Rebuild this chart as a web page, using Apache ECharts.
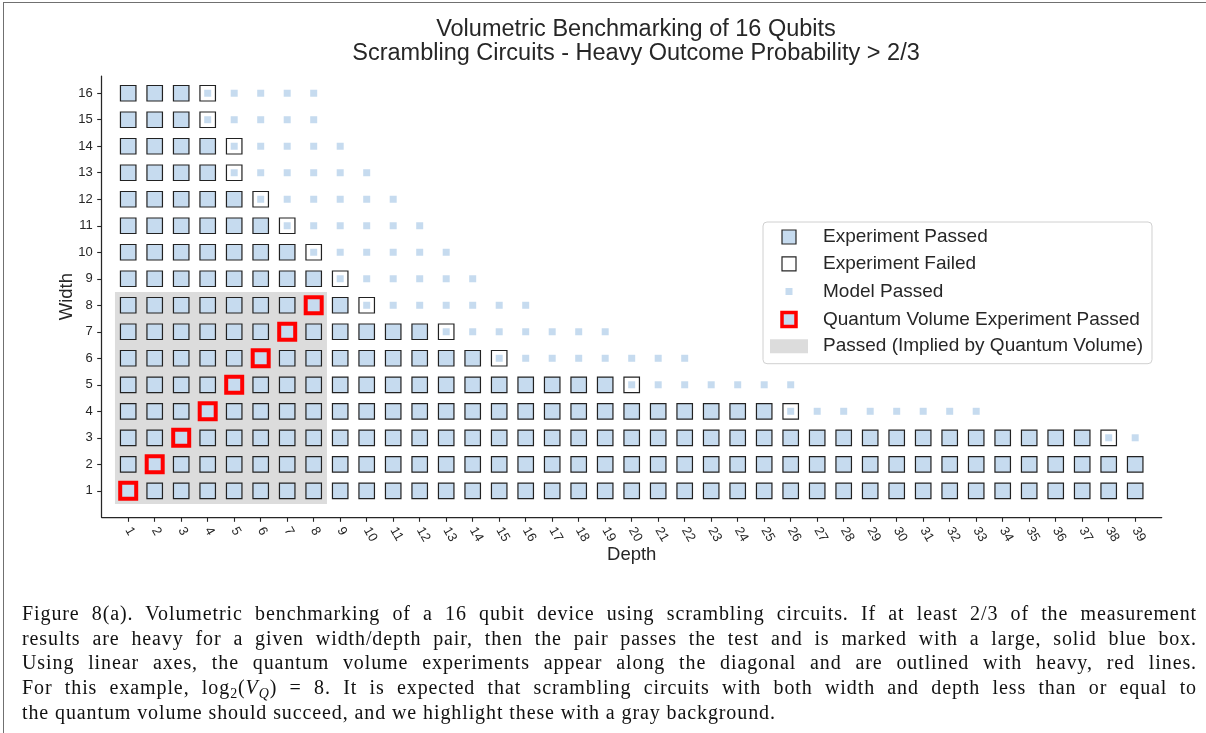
<!DOCTYPE html>
<html>
<head>
<meta charset="utf-8">
<title>Volumetric Benchmarking of 16 Qubits</title>
<script src="https://cdn.jsdelivr.net/npm/echarts@6/dist/echarts.min.js"></script>
<style>
  body { margin: 0; background: #fff; }
  #wrap { position: relative; width: 1206px; height: 733px; overflow: hidden; background: #fff; }
  #chart { position: absolute; left: 0; top: 0; width: 1206px; height: 733px; }
  #frame { position: absolute; left: 3px; top: 2px; width: 1220px; height: 760px;
           border-left: 1.5px solid #707070; border-top: 1.5px solid #707070; pointer-events: none; }
  #caption { position: absolute; left: 22px; top: 601px; width: 1175px;
             font-family: 'Liberation Serif', 'DejaVu Serif', serif; font-size: 20px;
             letter-spacing: 0.9px; line-height: 24.7px; color: #111; }
  #caption .ln { height: 24.7px; text-align: justify; text-align-last: justify; }
  #caption .last { text-align: left; text-align-last: left; }
  #caption sub { font-size: 70%; line-height: 0; vertical-align: -0.25em; }
</style>
</head>
<body>
<div id="wrap">
  <div id="chart"></div>
  <div id="frame"></div>
  <div id="caption">
    <div class="ln">Figure 8(a). Volumetric benchmarking of a 16 qubit device using scrambling circuits. If at least 2/3 of the measurement</div>
    <div class="ln">results are heavy for a given width/depth pair, then the pair passes the test and is marked with a large, solid blue box.</div>
    <div class="ln">Using linear axes, the quantum volume experiments appear along the diagonal and are outlined with heavy, red lines.</div>
    <div class="ln">For this example, log<sub>2</sub>(<i>V</i><sub><i>Q</i></sub>) = 8. It is expected that scrambling circuits with both width and depth less than or equal to</div>
    <div class="ln last">the quantum volume should succeed, and we highlight these with a gray background.</div>
  </div>
</div>
<script>
// circuit depths (x) and widths (y)
const depths = [1, 2, 3, 4, 5, 6, 7, 8, 9, 10, 11, 12, 13, 14, 15, 16, 17, 18, 19, 20,
  21, 22, 23, 24, 25, 26, 27, 28, 29, 30, 31, 32, 33, 34, 35, 36, 37, 38, 39];
const widths = [1, 2, 3, 4, 5, 6, 7, 8, 9, 10, 11, 12, 13, 14, 15, 16];

// per width (width 1 first): deepest depth where the experiment passed
const passedUpTo = [39, 39, 37, 25, 19, 14, 12, 9, 8, 7, 6, 5, 4, 4, 3, 3];
// depth of the failed experiment box (null = none)
const failedAt = [null, null, 38, 26, 20, 15, 13, 10, 9, 8, 7, 6, 5, 5, 4, 4];
// deepest depth where the model passed
const modelUpTo = [39, 39, 39, 33, 26, 22, 19, 16, 14, 13, 12, 11, 10, 9, 8, 8];

// quantum volume experiments (width == depth)
const qvDiagonal = [1, 2, 3, 4, 5, 6, 7, 8];
const log2Vq = 8;

const BLUE = '#c6dbef';
const INK = '#262626';

let passedCells = [], failedCells = [], modelCells = [];
widths.forEach((w, i) => {
  depths.forEach(d => {
    if (d <= passedUpTo[i]) passedCells.push([d, w]);
    if (d <= modelUpTo[i]) modelCells.push([d, w]);
  });
  if (failedAt[i] != null) failedCells.push([failedAt[i], w]);
});
const qvCells = qvDiagonal.map(d => [d, d]);
// gray block of everything implied by the quantum volume
const impliedArea = [[0.5, 0.5, log2Vq + 0.5, log2Vq + 0.5]];

const chart = echarts.init(document.getElementById('chart'), null, { renderer: 'canvas' });

const option = {
  animation: false,
  textStyle: { fontFamily: "'Liberation Sans', Arial, sans-serif" },
  title: {
    text: 'Volumetric Benchmarking of 16 Qubits\nScrambling Circuits - Heavy Outcome Probability > 2/3',
    left: 631,
    top: 13,
    textAlign: 'center',
    textStyle: { fontSize: 23.5, fontWeight: 'normal', color: INK, lineHeight: 23.5 }
  },
  grid: { left: 101.7, right: 44.3, top: 76, bottom: 215.7 },
  xAxis: {
    type: 'value',
    min: 0,
    max: 40,
    name: 'Depth',
    nameLocation: 'middle',
    nameGap: 28,
    nameMoveOverlap: false,
    nameTextStyle: { fontSize: 18.5, color: INK },
    axisLine: { lineStyle: { color: INK, width: 1.25 } },
    axisTick: { customValues: depths, length: 4.5, lineStyle: { color: INK, width: 1.1 } },
    axisLabel: { customValues: depths, rotate: -60, fontSize: 13, color: INK, margin: 11 },
    splitLine: { show: false }
  },
  yAxis: {
    type: 'value',
    min: 0,
    max: 16.65,
    name: 'Width',
    nameLocation: 'middle',
    nameGap: 25,
    nameMoveOverlap: false,
    nameTextStyle: { fontSize: 18.5, color: INK },
    axisLine: { lineStyle: { color: INK, width: 1.25 } },
    axisTick: { customValues: widths, length: 4.5, lineStyle: { color: INK, width: 1.1 } },
    axisLabel: { customValues: widths, fontSize: 13, color: INK, margin: 9 },
    splitLine: { show: false }
  },
  legend: {
    orient: 'vertical',
    left: 763,
    top: 222,
    padding: [5.5, 9, 8, 7],
    itemWidth: 38,
    itemHeight: 14,
    itemGap: 7.8,
    selectedMode: false,
    symbolKeepAspect: true,
    borderColor: '#d0d0d0',
    borderWidth: 1,
    borderRadius: 4,
    backgroundColor: '#ffffff',
    textStyle: { fontSize: 19, color: INK, padding: [0, 0, 0, 10] },
    data: [
      { name: 'Experiment Passed', icon: 'path://M0 0H10V10H0Z',
        itemStyle: { color: BLUE, borderColor: INK, borderWidth: 1.2 } },
      { name: 'Experiment Failed', icon: 'path://M0 0H10V10H0Z',
        itemStyle: { color: '#ffffff', borderColor: INK, borderWidth: 1.2 } },
      { name: 'Model Passed', icon: 'path://M0 0H10V10H0Z',
        itemStyle: { color: BLUE, borderColor: '#ffffff', borderWidth: 7 } },
      { name: 'Quantum Volume Experiment Passed', icon: 'path://M0 0H10V10H0Z',
        itemStyle: { color: BLUE, borderColor: '#ff0000', borderWidth: 3.5 } },
      { name: 'Passed (Implied by Quantum Volume)', icon: 'path://M0 0H38V14H0Z',
        itemStyle: { color: '#dcdcdc', borderWidth: 0 } }
    ]
  },
  series: [
    {
      name: 'Passed (Implied by Quantum Volume)',
      type: 'custom',
      silent: true,
      data: impliedArea,
      encode: { x: [0, 2], y: [1, 3] },
      renderItem: (params, api) => {
        const p0 = api.coord([api.value(0), api.value(1)]);
        const p1 = api.coord([api.value(2), api.value(3)]);
        return {
          type: 'rect',
          shape: { x: p0[0], y: p1[1], width: p1[0] - p0[0], height: p0[1] - p1[1] },
          style: { fill: '#dcdcdc' }
        };
      },
      itemStyle: { color: '#dcdcdc' }
    },
    {
      name: 'Model Passed',
      type: 'scatter',
      silent: true,
      symbol: 'rect',
      symbolSize: 7,
      data: modelCells,
      itemStyle: { color: BLUE, opacity: 1 }
    },
    {
      name: 'Experiment Passed',
      type: 'scatter',
      silent: true,
      symbol: 'rect',
      symbolSize: 15.5,
      data: passedCells,
      itemStyle: { color: BLUE, borderColor: '#222222', borderWidth: 1.2, opacity: 1 }
    },
    {
      name: 'Experiment Failed',
      type: 'scatter',
      silent: true,
      symbol: 'rect',
      symbolSize: 15.5,
      data: failedCells,
      itemStyle: { color: 'rgba(255,255,255,0)', borderColor: '#222222', borderWidth: 1.2, opacity: 1 }
    },
    {
      name: 'Quantum Volume Experiment Passed',
      type: 'scatter',
      silent: true,
      symbol: 'rect',
      symbolSize: 16,
      data: qvCells,
      itemStyle: { color: BLUE, borderColor: '#ff0000', borderWidth: 4, opacity: 1 }
    }
  ]
};

chart.setOption(option);
</script>
</body>
</html>
